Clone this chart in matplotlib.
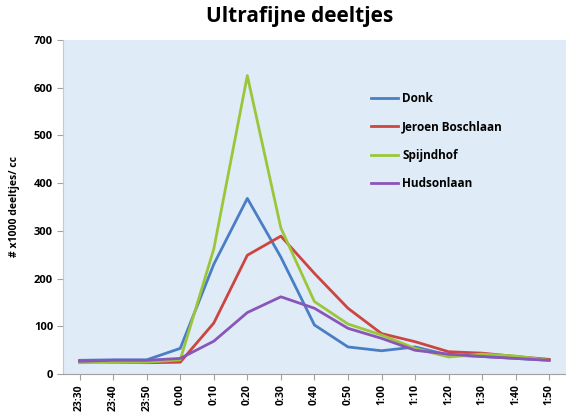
import matplotlib.pyplot as plt

# ---------------------------------------------------------
# data
# ---------------------------------------------------------
times = ["23:30", "23:40", "23:50", "0:00", "0:10", "0:20", "0:30", "0:40",
         "0:50", "1:00", "1:10", "1:20", "1:30", "1:40", "1:50"]

donk = [29, 30, 30, 54, 230, 368, 245, 103, 57, 49, 57, 40, 37, 33, 29]
jeroen_boschlaan = [27, 25, 24, 25, 107, 249, 289, 211, 138, 85, 68, 47, 44, 37, 31]
spijndhof = [24, 25, 25, 30, 262, 625, 306, 152, 105, 82, 54, 36, 42, 38, 29]
hudsonlaan = [27, 29, 29, 33, 69, 129, 162, 138, 96, 75, 50, 42, 37, 33, 29]

series = [
    ("Donk", donk, "#4a7ec4"),
    ("Jeroen Boschlaan", jeroen_boschlaan, "#cc4540"),
    ("Spijndhof", spijndhof, "#9bc63a"),
    ("Hudsonlaan", hudsonlaan, "#8a55b8"),
]

plt.rcParams["font.family"] = ["Open Sans", "DejaVu Sans"]

fig = plt.figure(figsize=(5.66, 4.19), dpi=100)
ax = fig.add_axes([0.111, 0.107, 0.889, 0.798])
ax.set_facecolor("#dfebf7")

x = list(range(len(times)))
for name, vals, col in series:
    ax.plot(x, vals, color=col, lw=2.0, label=name)

ax.set_xlim(-0.5, len(times) - 0.5)
ax.set_ylim(0, 700)
ax.set_yticks(range(0, 701, 100))
ax.set_xticks(x)
ax.set_xticklabels(times, rotation=90, fontsize=7.5, fontweight="bold")
for lab in ax.get_yticklabels():
    lab.set_fontsize(8)
    lab.set_fontweight("bold")

for s in ("top", "right"):
    ax.spines[s].set_visible(False)
ax.spines["left"].set_color("#c8c8c8")
ax.spines["bottom"].set_color("#a0a0a0")
ax.tick_params(axis="both", direction="out", length=4, color="#a0a0a0", pad=3)

ax.set_ylabel("# x1000 deeltjes/ cc", fontsize=7.5, fontweight="bold", labelpad=10)
fig.suptitle("Ultrafijne deeltjes", x=0.53, y=0.985, fontsize=15, fontweight="bold")

ax.legend(loc="upper left", bbox_to_anchor=(0.592, 0.875), frameon=False,
          prop={"weight": "bold", "size": 8.5}, handlelength=2.3,
          handletextpad=0.3, labelspacing=1.3)

fig.savefig("out.png", dpi=100)
